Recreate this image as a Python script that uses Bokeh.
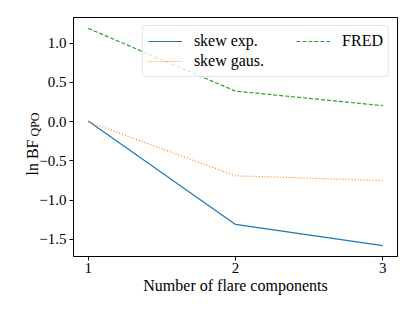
import math
from bokeh.plotting import figure
from bokeh.models import Legend, LegendItem, Range1d, FixedTicker, Label
from bokeh.embed import file_html
from bokeh.resources import INLINE

# ---- data ----
n_components = [1, 2, 3]
skew_exp = [0.01, -1.31, -1.58]
skew_gaus = [0.0, -0.69, -0.75]
fred = [1.19, 0.39, 0.205]
series_labels = ["skew exp.", "skew gaus.", "FRED"]
x_ticks = [1, 2, 3]
x_tick_labels = ["1", "2", "3"]
y_ticks = [-1.5, -1.0, -0.5, 0.0, 0.5, 1.0]
y_tick_labels = ["\u22121.5", "\u22121.0", "\u22120.5", "0.0", "0.5", "1.0"]
x_label = "Number of flare components"
y_label_parts = ["ln BF", "QPO"]

FONT = "Liberation Serif"

all_y = skew_exp + skew_gaus + fred
ypad = 0.05 * (max(all_y) - min(all_y))
xpad = 0.05 * (max(n_components) - min(n_components))
y0, y1 = min(all_y) - ypad, max(all_y) + ypad
x0, x1 = min(n_components) - xpad, max(n_components) + xpad

FW, FH = 324, 239
p = figure(frame_width=FW, frame_height=FH, output_backend="svg",
           toolbar_location=None,
           x_range=Range1d(x0, x1), y_range=Range1d(y0, y1),
           min_border_left=73, min_border_right=18, min_border_top=17,
           min_border_bottom=55)
p.background_fill_color = "white"
p.border_fill_color = "white"
p.outline_line_color = "black"
p.outline_line_width = 1
p.xgrid.visible = False
p.ygrid.visible = False

r1 = p.line(n_components, skew_exp, line_color="#1f77b4", line_width=1.2)
r2 = p.line(n_components, skew_gaus, line_color="#ff7f0e", line_width=1.2,
            line_dash="1 2")
r3 = p.line(n_components, fred, line_color="#2ca02c", line_width=1.2,
            line_dash="4 2")

for ax in (p.xaxis[0], p.yaxis[0]):
    ax.major_tick_in = 0
    ax.major_tick_out = 4
    ax.minor_tick_line_color = None
    ax.axis_line_color = "black"
    ax.major_tick_line_color = "black"
    ax.major_label_text_font = FONT
    ax.major_label_text_font_size = "15px"
    ax.major_label_text_color = "black"
p.xaxis.major_label_standoff = 2
p.yaxis.major_label_standoff = 3

p.xaxis.ticker = FixedTicker(ticks=x_ticks)
p.xaxis.major_label_overrides = dict(zip(x_ticks, x_tick_labels))
p.yaxis.ticker = FixedTicker(ticks=y_ticks)
p.yaxis.major_label_overrides = dict(zip(y_ticks, y_tick_labels))

p.xaxis.axis_label = x_label
p.xaxis.axis_label_text_font = FONT
p.xaxis.axis_label_text_font_size = "16px"
p.xaxis.axis_label_text_font_style = "normal"
p.xaxis.axis_label_text_color = "black"
p.xaxis.axis_label_standoff = 1

# y-axis label: "ln BF" + subscript "QPO", placed in the left panel
ypx = (y1 - y0) / FH
def yd(py):  # page pixel row -> data y (frame top at row 17)
    return y1 - (py - 17) * ypx

label_specs = [
    (y_label_parts[0], 175, -41, "16px"),
    (y_label_parts[1], 136, -39, "12px"),
]
for txt, py, xo, fs in label_specs:
    p.add_layout(Label(x=x0, y=yd(py), x_offset=xo, text=txt,
                       angle=math.pi / 2, text_font=FONT, text_font_size=fs,
                       text_align="left", text_baseline="alphabetic",
                       text_color="black"),
                 "left")

pad = "\u00a0" * 8
legend = Legend(items=[LegendItem(label=series_labels[0], renderers=[r1]),
                       LegendItem(label=series_labels[1] + pad, renderers=[r2]),
                       LegendItem(label=series_labels[2], renderers=[r3])],
                location="top_right", orientation="vertical", nrows=2,
                margin=8, padding=5, spacing=0, glyph_width=34,
                glyph_height=20, label_height=20, label_standoff=12,
                label_text_font=FONT, label_text_font_size="16px",
                label_text_color="black",
                border_line_color="#cccccc", border_line_width=1,
                border_radius=4,
                background_fill_color="white", background_fill_alpha=0.8)
p.add_layout(legend)

open("out.html", "w").write(file_html(p, INLINE))
